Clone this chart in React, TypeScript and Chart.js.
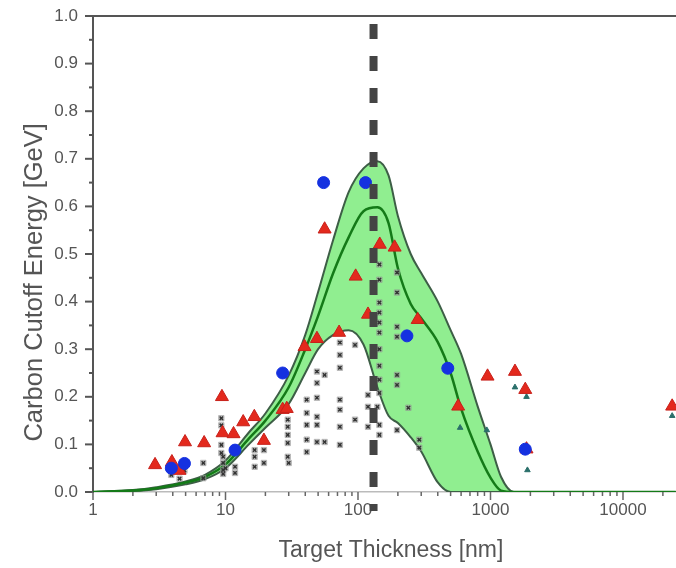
import React, { useEffect, useRef } from "react";
import { Chart, registerables } from "chart.js";

Chart.register(...registerables);

// ---- data ----
const bandThickness = [1, 2, 3, 5, 7, 10, 15, 20, 30, 40, 50, 65, 85, 110, 140, 170, 200, 250, 300, 400, 500, 600, 800, 1000, 1200, 1500, 25000];
const upperEnvelope = [0, 0.004, 0.01, 0.022, 0.036, 0.066, 0.125, 0.165, 0.245, 0.33, 0.42, 0.53, 0.63, 0.68, 0.695, 0.665, 0.58, 0.5, 0.46, 0.4, 0.34, 0.29, 0.18, 0.1, 0.032, 0, 0];
const meanCurve = [0, 0.003, 0.008, 0.02, 0.032, 0.058, 0.112, 0.15, 0.22, 0.3, 0.37, 0.46, 0.535, 0.59, 0.598, 0.565, 0.47, 0.395, 0.365, 0.315, 0.25, 0.175, 0.085, 0.03, 0.003, 0, 0];
const lowerEnvelope = [0, 0.002, 0.006, 0.016, 0.027, 0.05, 0.1, 0.135, 0.185, 0.25, 0.3, 0.33, 0.34, 0.31, 0.22, 0.16, 0.145, 0.115, 0.085, 0.02, 0, 0, 0, 0, 0, 0, 0];

const triangleX = [2.94, 3.94, 4.5, 4.95, 6.9, 9.4, 9.5, 11.5, 13.6, 16.5, 19.5, 27, 29, 39.5, 49, 56, 72, 96, 119, 146, 189, 282, 570, 950, 1530, 1830, 1870, 23500];
const triangleY = [0.057, 0.063, 0.045, 0.105, 0.103, 0.2, 0.124, 0.122, 0.147, 0.158, 0.108, 0.173, 0.175, 0.305, 0.322, 0.552, 0.335, 0.453, 0.373, 0.52, 0.514, 0.362, 0.18, 0.243, 0.253, 0.215, 0.09, 0.18];

const circleX = [3.9, 4.9, 11.8, 27, 55, 114, 234, 476, 1830];
const circleY = [0.05, 0.06, 0.088, 0.25, 0.65, 0.65, 0.328, 0.26, 0.09];

const crossX = [3.9, 4.5, 4.9, 6.8, 6.8, 9.3, 9.3, 9.3, 9.3, 9.6, 9.6, 9.6, 9.6, 10, 11.8, 11.8, 16.6, 16.6, 16.6, 19.5, 19.5, 29.5, 29.5, 29.5, 29.5, 29.5, 30, 41, 41, 41, 41, 41, 49, 49, 49, 49, 49, 49, 56, 56, 73, 73, 73, 73, 73, 73, 73, 95, 95, 119, 119, 119, 145, 145, 145, 145, 145, 145, 145, 145, 145, 145, 145, 145, 140, 197, 197, 197, 197, 197, 197, 197, 240, 290, 290];
const crossY = [0.036, 0.028, 0.045, 0.061, 0.029, 0.155, 0.14, 0.099, 0.082, 0.074, 0.061, 0.046, 0.038, 0.05, 0.053, 0.04, 0.088, 0.074, 0.053, 0.088, 0.061, 0.152, 0.137, 0.12, 0.103, 0.074, 0.061, 0.194, 0.166, 0.141, 0.11, 0.084, 0.253, 0.229, 0.198, 0.158, 0.141, 0.105, 0.246, 0.105, 0.314, 0.288, 0.261, 0.194, 0.173, 0.137, 0.099, 0.309, 0.152, 0.204, 0.179, 0.137, 0.141, 0.12, 0.478, 0.446, 0.398, 0.377, 0.356, 0.335, 0.3, 0.265, 0.236, 0.208, 0.179, 0.13, 0.461, 0.419, 0.347, 0.326, 0.246, 0.225, 0.177, 0.11, 0.093];

const tealX = [590, 938, 1530, 1870, 1900, 23500];
const tealY = [0.135, 0.13, 0.22, 0.2, 0.046, 0.16];

const xTickValues = [1, 10, 100, 1000, 10000];
const xMin = 1;
const xMax = 25119;
const yMin = 0;
const yMax = 1.0;
const yStep = 0.1;
const cutoffThickness = 131;

const FONT = "'Liberation Sans', Arial, sans-serif";

function toPoints(xs: number[], ys: number[]) {
  return xs.map((x, i) => ({ x, y: ys[i] }));
}

export default function App() {
  const canvasRef = useRef<HTMLCanvasElement>(null);

  useEffect(() => {
    const canvas = canvasRef.current;
    if (!canvas) return;

    const decor = {
      id: "decor",
      afterDatasetsDraw(chart: any) {
        const { ctx, chartArea, scales } = chart;
        const x = scales.x;
        const y = scales.y;
        ctx.save();
        // top frame line
        ctx.strokeStyle = "#555";
        ctx.lineWidth = 2;
        ctx.beginPath();
        ctx.moveTo(chartArea.left, chartArea.top);
        ctx.lineTo(chartArea.right, chartArea.top);
        ctx.stroke();
        // y tick marks (major + minor)
        for (let i = 0; i <= Math.round((yMax - yMin) / (yStep / 2)); i++) {
          const v = yMin + (i * yStep) / 2;
          const py = y.getPixelForValue(v);
          const len = i % 2 === 0 ? 8 : 4;
          ctx.beginPath();
          ctx.moveTo(chartArea.left - len, py);
          ctx.lineTo(chartArea.left, py);
          ctx.stroke();
        }
        // x tick marks (decades + minor)
        ctx.strokeStyle = "#666";
        ctx.lineWidth = 1.5;
        for (let d = 0; d <= 4; d++) {
          for (let m = 1; m <= 9; m++) {
            const v = m * Math.pow(10, d);
            if (v > x.max) break;
            const px = x.getPixelForValue(v);
            const len = m === 1 ? 8 : 4;
            ctx.beginPath();
            ctx.moveTo(px, chartArea.bottom);
            ctx.lineTo(px, chartArea.bottom + len);
            ctx.stroke();
          }
        }
        // vertical dashed marker line
        const dx = x.getPixelForValue(cutoffThickness);
        ctx.strokeStyle = "#444";
        ctx.lineWidth = 8;
        ctx.setLineDash([15, 17]);
        ctx.beginPath();
        ctx.moveTo(dx, y.getPixelForValue(0.983));
        ctx.lineTo(dx, y.getPixelForValue(-0.04));
        ctx.stroke();
        ctx.restore();
      },
    };

    const chart = new Chart(canvas, {
      type: "scatter",
      data: {
        datasets: [
          {
            label: "upper",
            data: toPoints(bandThickness, upperEnvelope),
            showLine: true,
            pointRadius: 0,
            borderColor: "#3d5e46",
            borderWidth: 2,
            backgroundColor: "#90EE90",
            fill: 2,
            cubicInterpolationMode: "monotone",
            order: 8,
          },
          {
            label: "mean",
            data: toPoints(bandThickness, meanCurve),
            showLine: true,
            pointRadius: 0,
            borderColor: "#147a18",
            borderWidth: 2.5,
            fill: false,
            cubicInterpolationMode: "monotone",
            order: 6,
          },
          {
            label: "lower",
            data: toPoints(bandThickness, lowerEnvelope),
            showLine: true,
            pointRadius: 0,
            borderColor: "#3d5e46",
            borderWidth: 2,
            fill: false,
            cubicInterpolationMode: "monotone",
            order: 7,
          },
          {
            label: "sim-box",
            data: toPoints(crossX, crossY),
            pointStyle: "rect",
            pointRadius: 3.8,
            borderColor: "rgba(140,140,140,0.55)",
            backgroundColor: "rgba(175,175,175,0.55)",
            borderWidth: 1,
            order: 5,
          },
          {
            label: "sim",
            data: toPoints(crossX, crossY),
            pointStyle: "crossRot",
            pointRadius: 2.4,
            borderColor: "#333",
            backgroundColor: "#333",
            borderWidth: 1.6,
            order: 4,
          },
          {
            label: "teal",
            data: toPoints(tealX, tealY),
            pointStyle: "triangle",
            pointRadius: 3.2,
            borderColor: "#2a6f6a",
            backgroundColor: "#2a6f6a",
            borderWidth: 1,
            order: 3,
          },
          {
            label: "tri",
            data: toPoints(triangleX, triangleY),
            pointStyle: "triangle",
            pointRadius: 7.5,
            borderColor: "#c8201a",
            backgroundColor: "#e3291d",
            borderWidth: 1,
            order: 2,
          },
          {
            label: "circ",
            data: toPoints(circleX, circleY),
            pointStyle: "circle",
            pointRadius: 6,
            borderColor: "#1531e0",
            backgroundColor: "#1531e0",
            borderWidth: 1,
            order: 1,
          },
        ],
      },
      options: {
        animation: false,
        responsive: false,
        devicePixelRatio: 1,
        layout: { autoPadding: false, padding: { top: 16, left: 0, right: 0, bottom: 0 } },
        plugins: {
          legend: { display: false },
          tooltip: { enabled: false },
        },
        scales: {
          x: {
            type: "logarithmic",
            position: "bottom",
            min: xMin,
            max: xMax,
            grid: { display: false, drawTicks: false },
            border: { display: true, color: "#bbbbbb", width: 1.5 },
            ticks: {
              font: { size: 17, family: FONT },
              color: "#555",
              padding: 8,
              autoSkip: false,
              maxRotation: 0,
              callback: (v: any) => String(v),
            },
            afterBuildTicks: (s: any) => {
              s.ticks = xTickValues.map((v) => ({ value: v }));
            },
            afterFit: (s: any) => {
              s.height = 76;
              s.paddingLeft = 0;
              s.paddingRight = 0;
            },
            title: {
              display: true,
              text: "\u00A0\u00A0Target Thickness [nm]",
              font: { size: 23, family: FONT },
              color: "#555",
              padding: { top: 0, bottom: 4 },
            },
          },
          y: {
            type: "linear",
            min: yMin,
            max: yMax,
            grid: { display: false, drawTicks: false },
            border: { display: true, color: "#555", width: 2 },
            ticks: {
              stepSize: yStep,
              font: { size: 17, family: FONT },
              color: "#555",
              padding: 15,
              callback: (v: any) => Number(v).toFixed(1),
            },
            afterFit: (s: any) => {
              s.width = 93;
              s.paddingTop = 0;
              s.paddingBottom = 0;
            },
            title: {
              display: true,
              text: "Carbon Cutoff Energy [GeV]\u00A0\u00A0\u00A0\u00A0\u00A0\u00A0\u00A0\u00A0",
              font: { size: 25.5, family: FONT },
              color: "#555",
              padding: { top: 20, bottom: 0 },
            },
          },
        },
      },
      plugins: [decor],
    });

    return () => chart.destroy();
  }, []);

  return (
    <div style={{ position: "fixed", left: 0, top: 0, width: 676, height: 568, background: "#fff" }}>
      <canvas ref={canvasRef} width={676} height={568} style={{ display: "block" }} />
    </div>
  );
}
